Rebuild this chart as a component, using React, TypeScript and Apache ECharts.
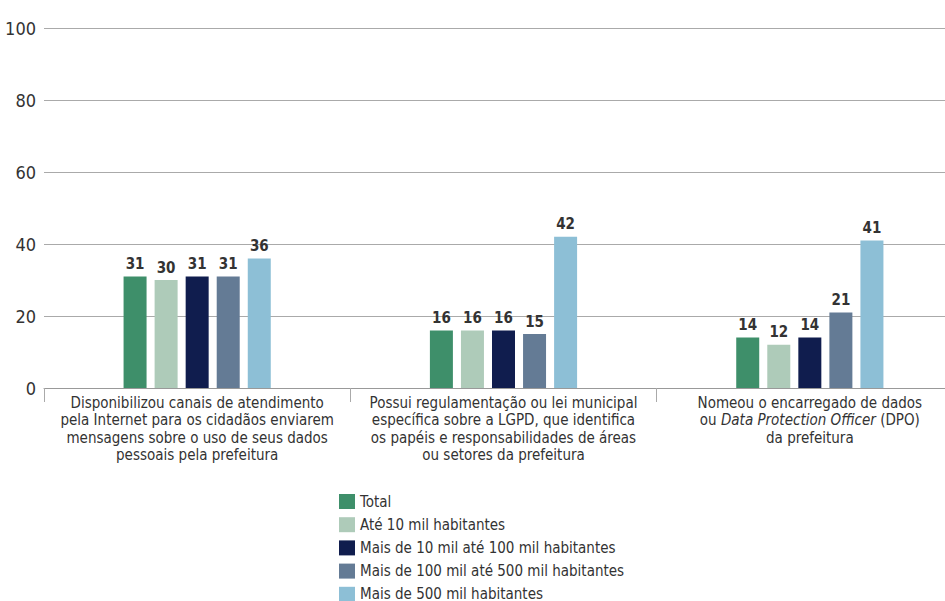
import React, { useEffect, useRef } from "react";
import * as echarts from "echarts";

const categories = [
  "Disponibilizou canais de atendimento\npela Internet para os cidadãos enviarem\nmensagens sobre o uso de seus dados\npessoais pela prefeitura",
  "Possui regulamentação ou lei municipal\nespecífica sobre a LGPD, que identifica\nos papéis e responsabilidades de áreas\nou setores da prefeitura",
  "Nomeou o encarregado de dados\nou {i|Data Protection Officer} (DPO)\nda prefeitura",
];
const seriesNames = [
  "Total",
  "Até 10 mil habitantes",
  "Mais de 10 mil até 100 mil habitantes",
  "Mais de 100 mil até 500 mil habitantes",
  "Mais de 500 mil habitantes",
];
const total = [31, 16, 14];
const ate10 = [30, 16, 12];
const de10a100 = [31, 16, 14];
const de100a500 = [31, 15, 21];
const mais500 = [36, 42, 41];
const colors = ["#3e8f6a", "#aecbb9", "#101d4e", "#647b95", "#8dbfd6"];
const yTicks = [0, 20, 40, 60, 80, 100];

const FONT = '"DejaVu Sans Condensed", "Liberation Sans Narrow", sans-serif';
const H = 660;
const W = 963;

export default function App() {
  const ref = useRef<HTMLDivElement>(null);
  useEffect(() => {
    if (!ref.current) return;
    const chart = echarts.init(ref.current, undefined, { renderer: "svg" });
    const values = [total, ate10, de10a100, de100a500, mais500];
    chart.setOption({
      animation: false,
      textStyle: { fontFamily: FONT },
      grid: { left: 44, right: 0, top: 28, bottom: H - 388, containLabel: false },
      legend: {
        orient: "vertical",
        left: 339,
        top: 494,
        padding: 0,
        itemWidth: 16,
        itemHeight: 15,
        itemGap: 8.2,
        icon: "rect",
        textStyle: { fontFamily: FONT, fontSize: 15, color: "#333" },
        data: seriesNames,
      },
      xAxis: {
        type: "category",
        data: categories,
        axisLine: { lineStyle: { color: "#999", width: 1 } },
        axisTick: { show: true, alignWithLabel: false, length: 14, lineStyle: { color: "#aaa" } },
        axisLabel: {
          interval: 0,
          fontFamily: FONT,
          fontSize: 15,
          color: "#333",
          lineHeight: 17.5,
          margin: 6,
          rich: { i: { fontStyle: "italic", fontFamily: FONT, fontSize: 15, color: "#333" } },
        },
      },
      yAxis: {
        type: "value",
        min: yTicks[0],
        max: yTicks[yTicks.length - 1],
        interval: 20,
        axisLine: { show: false },
        axisTick: { show: false },
        axisLabel: { fontFamily: FONT, fontSize: 18, color: "#333", margin: 8 },
        splitLine: { lineStyle: { color: "#aaa", width: 1 } },
      },
      series: seriesNames.map((name, i) => ({
        name,
        type: "bar",
        data: values[i],
        barWidth: 23,
        barGap: "35%",
        itemStyle: { color: colors[i] },
        label: {
          show: true,
          position: "top",
          distance: 5,
          fontFamily: FONT,
          fontWeight: "bold",
          fontSize: 15,
          color: "#333",
        },
      })),
    });
    return () => chart.dispose();
  }, []);
  return (
    <div
      ref={ref}
      style={{ position: "fixed", left: 0, top: 0, width: W, height: H, background: "#fff" }}
    />
  );
}
